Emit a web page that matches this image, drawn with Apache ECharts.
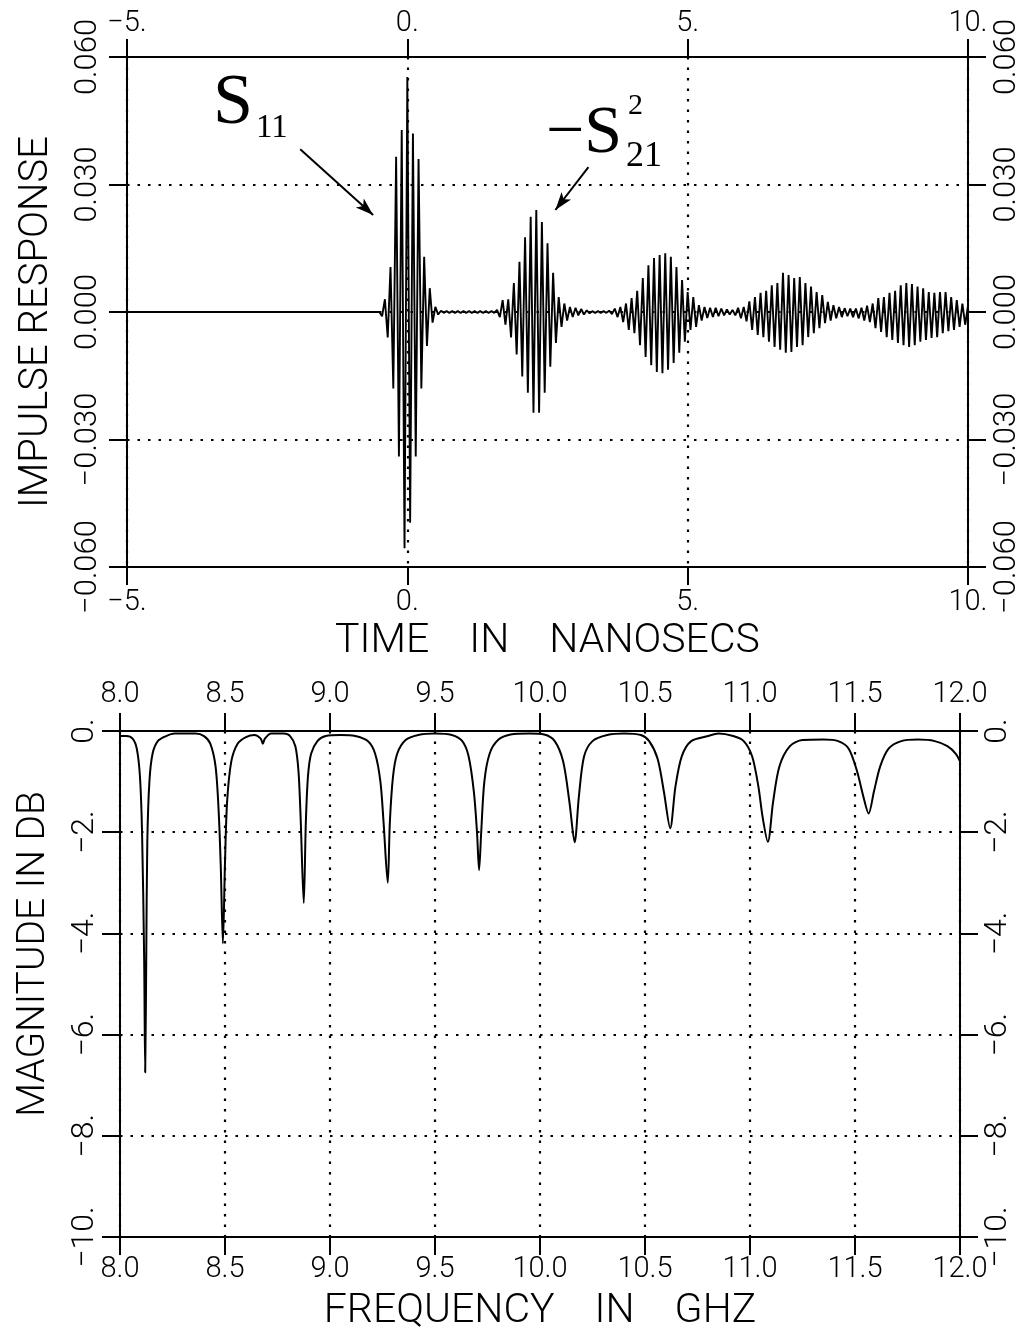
<!DOCTYPE html>
<html>
<head>
<meta charset="utf-8">
<style>
  html, body { margin: 0; padding: 0; background: #fff; }
  #chart { width: 1026px; height: 1336px; }
</style>
<script src="https://cdn.jsdelivr.net/npm/echarts@6/dist/echarts.min.js"></script>
</head>
<body>
<div id="chart"></div>
<script>
// ---------------- DATA ----------------
// Impulse response (top): carrier extremes, one value per half period.
const STEP_NS = 0.05;
const leadInTime = [-5.0, -0.55];
const leadInValue = [0, 0];

const s11Start = -0.50;
const s11Pulse = [0, -0.0010, 0.0030, -0.0060, 0.0106, -0.0180, 0.0365, -0.0340, 0.0428, -0.0556,
  0.0553, -0.0496, 0.0420, -0.0340, 0.0360, -0.0180, 0.0130, -0.0080, 0.0056, -0.0025,
  0.0012, -0.0006, 0.0003, -0.0002];

const quiet1Start = 0.70;
const quiet1 = [0.0002, -0.0002, 0.0002, -0.0002, 0.0002, -0.0002, 0.0002, -0.0002, 0.0002,
  -0.0002, 0.0002, -0.0002, 0.0002, -0.0002, 0.0002, -0.0002, 0.0002, -0.0002];

const s21Pulse1Start = 1.60;
const s21Pulse1 = [0.0005, -0.0012, 0.0028, -0.0030, 0.0030, -0.0060, 0.0068, -0.0100, 0.0118, -0.0152,
  0.0176, -0.0190, 0.0224, -0.0237, 0.0240, -0.0237, 0.0212, -0.0190, 0.0162, -0.0129,
  0.0092, -0.0073, 0.0035, -0.0035, 0.0020, -0.0020, 0.0012, -0.0012, 0.0010, -0.0008,
  0.0007, -0.0006, 0.0004, -0.0003];

const quiet2Start = 3.30;
const quiet2 = [0.0002, -0.0002, 0.0002, -0.0002, 0.0002, -0.0002];

const s21Pulse2Start = 3.60;
const s21Pulse2 = [0.0003, -0.0005, 0.0008, -0.0012, 0.0012, -0.0024, 0.0020, -0.0042, 0.0033, -0.0050,
  0.0050, -0.0078, 0.0080, -0.0106, 0.0110, -0.0125, 0.0127, -0.0141, 0.0134, -0.0144,
  0.0138, -0.0136, 0.0130, -0.0120, 0.0106, -0.0096, 0.0075, -0.0070, 0.0047, -0.0042,
  0.0035, -0.0035, 0.0016, -0.0020, 0.0012, -0.0014, 0.0010, -0.0012, 0.0010, -0.0010,
  0.0008, -0.0008, 0.0006, -0.0006, 0.0005, -0.0008, 0.0010, -0.0015];

const s21Pulse3Start = 6.00;
const s21Pulse3 = [0.0012, -0.0022, 0.0025, -0.0042, 0.0035, -0.0054, 0.0045, -0.0059, 0.0050, -0.0070,
  0.0063, -0.0082, 0.0068, -0.0089, 0.0092, -0.0096, 0.0087, -0.0094, 0.0080, -0.0082,
  0.0082, -0.0078, 0.0068, -0.0059, 0.0060, -0.0050, 0.0047, -0.0038, 0.0040, -0.0026,
  0.0024, -0.0020, 0.0016, -0.0015, 0.0012, -0.0012, 0.0009, -0.0010, 0.0008, -0.0012];

const s21Pulse4Start = 8.00;
const s21Pulse4 = [0.0008, -0.0015, 0.0010, -0.0020, 0.0015, -0.0024, 0.0020, -0.0038, 0.0033, -0.0047,
  0.0035, -0.0059, 0.0045, -0.0066, 0.0050, -0.0073, 0.0063, -0.0078, 0.0068, -0.0082,
  0.0066, -0.0078, 0.0060, -0.0070, 0.0056, -0.0066, 0.0047, -0.0061, 0.0045, -0.0059,
  0.0047, -0.0050, 0.0047, -0.0045, 0.0035, -0.0042, 0.0028, -0.0035, 0.0020, -0.0030,
  0.0015];

const timeTicks = { min: -5, max: 10, interval: 5 };
const impulseTicks = { min: -0.06, max: 0.06, interval: 0.03 };

// Transmission magnitude (bottom)
const freqGHz = [8.000, 8.03, 8.06, 8.08, 8.095, 8.105, 8.115, 8.12, 8.125, 8.13, 8.14, 8.155, 8.18, 8.22, 8.26,
  8.30, 8.36, 8.40, 8.43, 8.455, 8.47, 8.48, 8.49, 8.50, 8.51, 8.53, 8.56, 8.60, 8.64, 8.67, 8.68, 8.69, 8.72,
  8.78, 8.81, 8.835, 8.85, 8.86, 8.875, 8.885, 8.895, 8.91, 8.94, 8.98, 9.05, 9.12, 9.18, 9.215, 9.24, 9.255,
  9.275, 9.285, 9.30, 9.32, 9.36, 9.42, 9.50, 9.58, 9.63, 9.66, 9.685, 9.70, 9.71, 9.72, 9.735, 9.76, 9.80,
  9.86, 9.95, 10.02, 10.07, 10.11, 10.14, 10.165, 10.185, 10.21, 10.25, 10.32, 10.40, 10.48, 10.52, 10.56,
  10.59, 10.62, 10.645, 10.675, 10.72, 10.80, 10.85, 10.92, 10.97, 11.01, 11.04, 11.06, 11.085, 11.11, 11.14,
  11.19, 11.25, 11.35, 11.42, 11.47, 11.51, 11.54, 11.565, 11.59, 11.62, 11.66, 11.72, 11.80, 11.88, 11.94,
  11.98, 12.0];
const magDb = [-0.10, -0.10, -0.15, -0.35, -0.9, -2.0, -4.5, -6.75, -4.5, -2.2, -1.0, -0.45, -0.2, -0.1, -0.05,
  -0.05, -0.05, -0.1, -0.25, -0.7, -1.6, -2.7, -4.2, -2.6, -1.4, -0.6, -0.25, -0.12, -0.08, -0.15, -0.25, -0.15, -0.05,
  -0.05, -0.1, -0.3, -0.8, -1.7, -3.4, -1.8, -0.9, -0.45, -0.2, -0.1, -0.08, -0.1, -0.2, -0.45, -1.0, -1.8,
  -3.0, -1.8, -0.9, -0.45, -0.18, -0.08, -0.05, -0.08, -0.2, -0.5, -1.2, -2.0, -2.75, -2.0, -1.0, -0.45, -0.18,
  -0.07, -0.05, -0.07, -0.2, -0.6, -1.4, -2.2, -1.3, -0.5, -0.2, -0.08, -0.05, -0.08, -0.2, -0.55,
  -1.2, -1.92, -1.1, -0.5, -0.2, -0.1, -0.05, -0.1, -0.2, -0.5, -1.1, -1.7, -2.19, -1.4, -0.7,
  -0.3, -0.18, -0.17, -0.2, -0.35, -0.8, -1.3, -1.63, -1.2, -0.7, -0.35, -0.2, -0.17, -0.2, -0.3,
  -0.45, -0.6];

const freqTicks = { min: 8, max: 12, interval: 0.5 };
const dbTicks = { min: -10, max: 0, interval: 2 };

// ---------------- BUILD ----------------
const impulseData = [];
leadInTime.forEach((t, i) => impulseData.push([t, leadInValue[i]]));
function addPulse(start, values) {
  values.forEach((v, i) => impulseData.push([+(start + i * STEP_NS).toFixed(3), v]));
}
addPulse(s11Start, s11Pulse);
addPulse(quiet1Start, quiet1);
addPulse(s21Pulse1Start, s21Pulse1);
addPulse(quiet2Start, quiet2);
addPulse(s21Pulse2Start, s21Pulse2);
addPulse(s21Pulse3Start, s21Pulse3);
addPulse(s21Pulse4Start, s21Pulse4);

const freqData = freqGHz.map((f, i) => [f, magDb[i]]);

const MINUS = '\u2212';
const FONT = "Roboto, 'Liberation Sans', sans-serif";
const SERIF = "'Liberation Serif', 'DejaVu Serif', serif";

const axisLine = { show: true, onZero: false, lineStyle: { color: '#000', width: 2 } };
const axisTick = { show: true, length: 18, lineStyle: { color: '#000', width: 2 } };
const dotted = { show: true, lineStyle: { color: '#000', width: 2.2, type: [2.5, 8] } };
const labelBase = { color: '#000', fontFamily: FONT, fontWeight: 300 };

const fmtTime = v => (v < 0 ? MINUS : '') + Math.abs(v) + '.';
const fmtImp = v => (v < -1e-9 ? MINUS : '') + Math.abs(v).toFixed(3);
const fmtFreq = v => v.toFixed(1);
const fmtDb = v => (v < -1e-9 ? MINUS : '') + Math.abs(Math.round(v)) + '.';

function xAx(grid, pos, ticks, fmt, margin, split, name, nameGap) {
  return {
    type: 'value', gridIndex: grid, position: pos,
    min: ticks.min, max: ticks.max, interval: ticks.interval,
    axisLine, axisTick,
    axisLabel: Object.assign({}, labelBase, { fontSize: 29, margin, formatter: fmt }),
    splitLine: split ? dotted : { show: false },
    name: name || '', nameLocation: 'middle', nameGap: nameGap || 0,
    nameTextStyle: { color: '#000', fontFamily: FONT, fontWeight: 300, fontSize: 41 }
  };
}
function yAx(grid, pos, ticks, fmt, size, margin, split, name, nameGap, namePad, nameSize) {
  return {
    type: 'value', gridIndex: grid, position: pos,
    min: ticks.min, max: ticks.max, interval: ticks.interval,
    axisLine, axisTick,
    axisLabel: Object.assign({}, labelBase, { fontSize: size, margin, rotate: 90, formatter: fmt }),
    splitLine: split ? dotted : { show: false },
    name: name || '', nameLocation: 'middle', nameGap: nameGap || 0, nameRotate: 90,
    nameTextStyle: { color: '#000', fontFamily: FONT, fontWeight: 300, fontSize: nameSize || 38, padding: namePad || 0 }
  };
}

const option = {
  backgroundColor: '#fff',
  animation: false,
  grid: [
    { left: 127, right: 58, top: 57, height: 510 },
    { left: 120, right: 66, top: 731, height: 506 }
  ],
  xAxis: [
    xAx(0, 'bottom', timeTicks, fmtTime, 21, true, 'TIME    IN    NANOSECS', 54),
    xAx(0, 'top', timeTicks, fmtTime, 19, false),
    xAx(1, 'bottom', freqTicks, fmtFreq, 18, true, 'FREQUENCY    IN    GHZ', 54),
    xAx(1, 'top', freqTicks, fmtFreq, 22, false)
  ],
  yAxis: [
    yAx(0, 'left', impulseTicks, fmtImp, 31, 23, true, 'IMPULSE RESPONSE', 70, [0, 20, 0, 0], 40),
    yAx(0, 'right', impulseTicks, fmtImp, 31, 24, false),
    yAx(1, 'left', dbTicks, fmtDb, 32, 19, true, 'MAGNITUDE IN DB', 66, [0, 0, 0, 60], 39),
    yAx(1, 'right', dbTicks, fmtDb, 32, 22, false)
  ],
  series: [
    {
      name: 'Impulse response', type: 'line', xAxisIndex: 0, yAxisIndex: 0,
      data: impulseData, symbol: 'none', sampling: null,
      lineStyle: { color: '#000', width: 1.9 }, z: 3,
      markLine: {
        silent: true, symbol: ['none', 'arrow'], symbolSize: [9, 18],
        label: { show: false },
        lineStyle: { color: '#000', width: 2, type: 'solid' },
        data: [
          [{ coord: [-1.91, 0.0383] }, { coord: [-0.61, 0.0228] }],
          [{ coord: [3.23, 0.0341] }, { coord: [2.64, 0.0240] }]
        ]
      }
    },
    {
      name: 'Magnitude', type: 'line', xAxisIndex: 2, yAxisIndex: 2,
      data: freqData, symbol: 'none', smooth: 0.3,
      lineStyle: { color: '#000', width: 2 }, z: 3
    }
  ],
  graphic: [
    { type: 'text', x: 213, y: 104, style: { text: 'S', font: '72px ' + SERIF, fill: '#000', textAlign: 'left', textVerticalAlign: 'middle' } },
    { type: 'text', x: 256, y: 128, style: { text: '11', font: '33px ' + SERIF, fill: '#000', textAlign: 'left', textVerticalAlign: 'middle' } },
    { type: 'text', x: 546, y: 134, style: { text: MINUS + 'S', font: '68px ' + SERIF, fill: '#000', textAlign: 'left', textVerticalAlign: 'middle' } },
    { type: 'text', x: 628, y: 106, style: { text: '2', font: '30px ' + SERIF, fill: '#000', textAlign: 'left', textVerticalAlign: 'middle' } },
    { type: 'text', x: 626, y: 157, style: { text: '21', font: '36px ' + SERIF, fill: '#000', textAlign: 'left', textVerticalAlign: 'middle' } }
  ]
};

const chart = echarts.init(document.getElementById('chart'), null, { renderer: 'canvas' });
chart.setOption(option);
</script>
</body>
</html>
